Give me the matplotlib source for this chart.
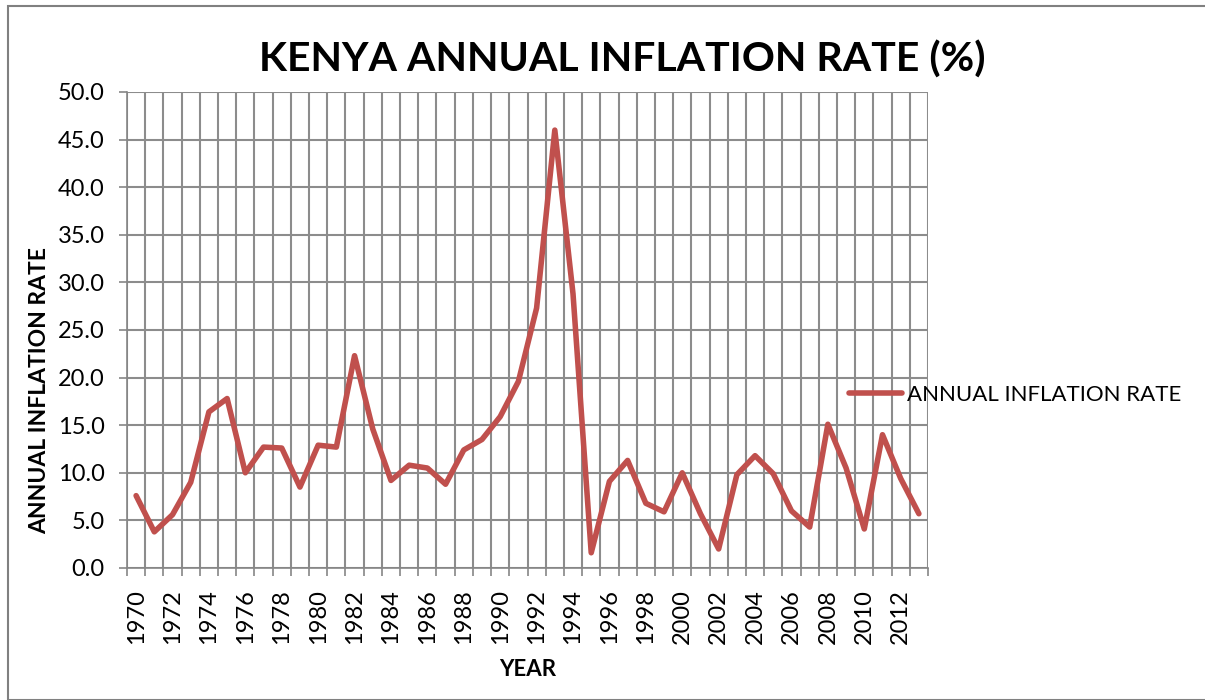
"""Kenya annual inflation rate, 1970-2013, drawn as an Excel-style line chart."""

import matplotlib.pyplot as plt
from matplotlib.patches import Rectangle

years = list(range(1970, 2014))
inflation = [
    7.6, 3.8, 5.6, 9.0, 16.4, 17.8, 10.0, 12.7, 12.6, 8.5,
    12.9, 12.7, 22.3, 14.6, 9.2, 10.8, 10.5, 8.8, 12.4, 13.5,
    15.9, 19.6, 27.3, 46.0, 28.8, 1.6, 9.1, 11.3, 6.8, 5.9,
    10.0, 5.7, 2.0, 9.8, 11.8, 9.9, 6.0, 4.3, 15.1, 10.5,
    4.1, 14.0, 9.4, 5.7,
]
tick_years = years[::2]

plt.rcParams["font.family"] = ["Lato", "DejaVu Sans"]

fig = plt.figure(figsize=(12.05, 7.0), dpi=100)
ax = fig.add_axes([127 / 1205, 1 - 568 / 700, 801 / 1205, 476 / 700])

xs = list(range(len(years)))
ax.plot(xs, inflation, color="#C0504D", linewidth=4.0,
        solid_capstyle="round", solid_joinstyle="round",
        label="ANNUAL INFLATION RATE", zorder=3)

ax.set_xlim(-0.5, len(years) - 0.5)
ax.set_ylim(0, 50)
ax.set_yticks([i * 5 for i in range(11)])
ax.set_yticklabels([f"{i * 5:.1f}" for i in range(11)], fontsize=17)

# gridlines at category boundaries, labels every other year
ax.set_xticks([i - 0.5 for i in range(len(years) + 1)], minor=False)
ax.set_xticklabels([])
ax.set_xticks([years.index(y) for y in tick_years], minor=True)
ax.set_xticklabels([str(y) for y in tick_years], minor=True,
                   rotation=90, fontsize=17)
ax.tick_params(axis="x", which="minor", length=0, pad=15)
ax.tick_params(axis="x", which="major", length=6, color="#868686", width=1.2)
ax.tick_params(axis="y", length=6, color="#868686", width=1.2, pad=10)

ax.grid(True, which="major", color="#8C8C8C", linewidth=1.5, zorder=0)
for side in ["top", "right"]:
    ax.spines[side].set_visible(False)
for side in ["left", "bottom"]:
    ax.spines[side].set_color("#868686")
    ax.spines[side].set_linewidth(1.2)

fig.text(622 / 1205, 1 - 60 / 700, "KENYA ANNUAL INFLATION RATE (%)",
         ha="center", va="center", fontsize=29.5, fontweight="bold")
fig.text(528 / 1205, 1 - 670 / 700, "YEAR", ha="center", va="center",
         fontsize=16, fontweight="bold")
fig.text(40 / 1205, 1 - 390 / 700, "ANNUAL INFLATION RATE", ha="center",
         va="center", rotation=90, fontsize=16.5, fontweight="bold")

fig.legend(loc="center left", bbox_to_anchor=(829 / 1205, 1 - 395 / 700),
           frameon=False, fontsize=16, handlelength=2.4, handletextpad=0.2)

fig.patches.append(Rectangle((8 / 1205, 0), 1.2, 1 - 6 / 700,
                             transform=fig.transFigure, fill=False,
                             edgecolor="#808080", linewidth=1.5))

fig.savefig("out.png", dpi=100)
